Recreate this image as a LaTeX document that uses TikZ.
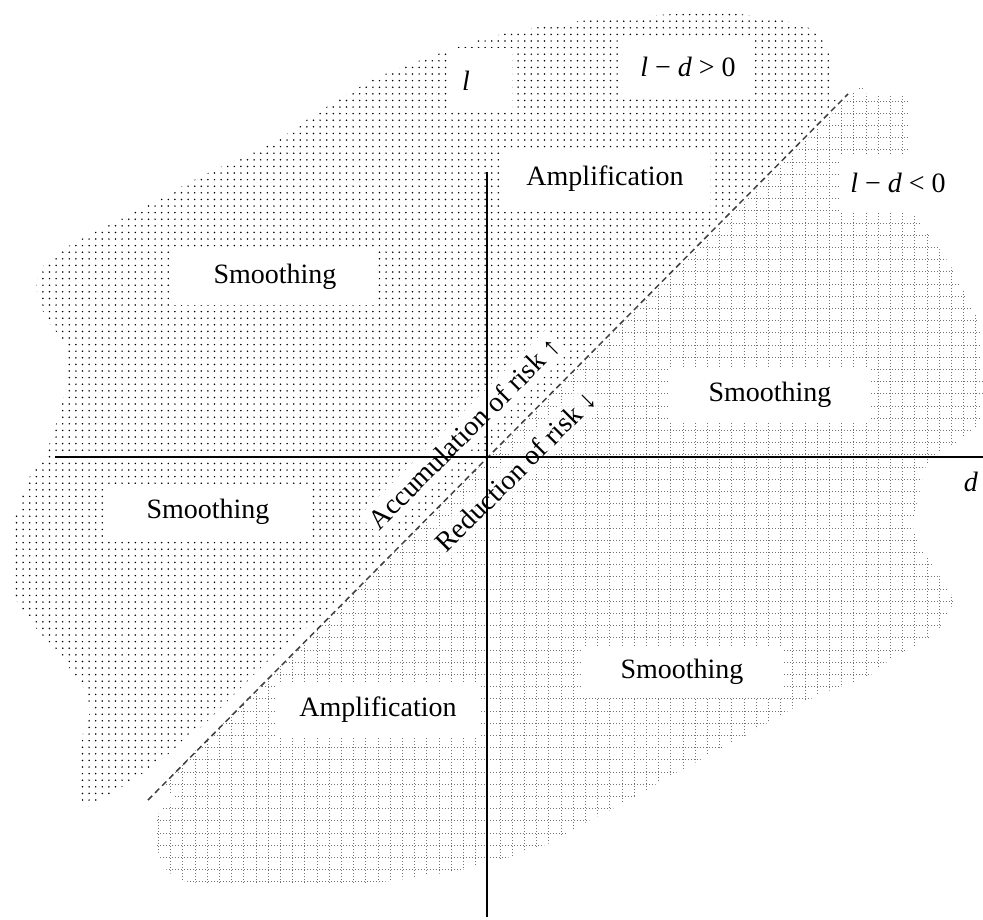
\documentclass[tikz,border=0pt]{standalone}
\usepackage{fontspec}
\setmainfont{Liberation Serif}
\begin{document}
\begin{tikzpicture}[x=1pt,y=-1pt,
  lab/.style={fill=white, inner sep=0pt, text=black, font=\fontsize{28}{32}\selectfont},
  plain/.style={inner sep=0pt, text=black, font=\fontsize{28}{32}\selectfont},
  dotrow/.style={black, line width=1.7pt, line cap=round, dash pattern=on 0pt off 6.6pt},
  gridline/.style={black!55, line width=1pt, dash pattern=on 1.2pt off 1.8pt},
  axis/.style={black, line width=1.2pt},
  divider/.style={black!75, line width=1.5pt, dash pattern=on 6pt off 4pt}
]
\useasboundingbox (0,0) rectangle (983,919);

% ---------- dotted region (l - d > 0) ----------
\begin{scope}
  \clip (-20,958) -- (958,-20) -- (-20,-20) -- cycle;
  \clip plot[smooth cycle, tension=0.45] coordinates {
      (40,270) (67,247) (133,213) (200,177) (277,140) (317,113) (383,75)
      (490,37) (590,20) (723,13) (807,27) (830,57) (834,100) (900,110)
      (600,420) (380,572) (280,650) (200,728) (143,773) (100,800) (84,806)
      (80,777) (83,733) (90,710) (83,687) (63,660) (43,637) (23,610)
      (13,593) (12,560) (15,520) (23,493) (33,470) (43,460) (53,433)
      (63,400) (67,353) (63,340) (47,320) (37,293)};
  \foreach \k in {0,...,125} {
    \draw[dotrow] (3.3,8+6.6*\k) -- (990,8+6.6*\k);
  }
\end{scope}

% ---------- grid region (l - d < 0) ----------
\begin{scope}
  \clip (-20,966) -- (966,-20) -- (1200,-20) -- (1200,1200) -- (-20,1200) -- cycle;
  \clip plot[smooth cycle, tension=0.45] coordinates {
      (867,94) (907,97) (910,155) (913,210) (940,250) (953,270) (973,310)
      (980,330) (980,420) (930,460) (920,490) (913,527) (923,550) (940,577)
      (953,600) (943,623) (930,637) (890,660) (867,677) (823,693) (790,710)
      (750,733) (700,760) (663,780) (630,800) (590,820) (550,843) (500,860)
      (460,870) (367,883) (200,883) (170,873) (160,857) (155,837) (160,810)
      (175,797) (120,740) (500,400) (830,70)};
  \foreach \k in {0,...,70} {
    \draw[gridline] (146.2+12.2*\k,60) -- (146.2+12.2*\k,910);
  }
  \foreach \k in {0,...,68} {
    \draw[gridline] (100,88.8+12.2*\k) -- (1000,88.8+12.2*\k);
  }
\end{scope}

% ---------- label boxes ----------
\node[lab, minimum width=65pt, minimum height=62pt] (lbox) at (479,79) {};
\node[plain] (lvar) at (466,81) {\textit{l}};
\node[lab, minimum width=130pt, minimum height=60pt] (pos) at (688,67) {\textit{l} − \textit{d} > 0};
\node[lab, minimum width=210pt, minimum height=58pt] (ampTop) at (605,179) {Amplification};
\node[lab, minimum width=118pt, minimum height=56pt] (neg) at (898,183) {\textit{l} − \textit{d} < 0};
\node[lab, minimum width=204pt, minimum height=55pt] (smUL) at (275,277) {Smoothing};
\node[lab, minimum width=200pt, minimum height=55pt] (smUR) at (770,395) {Smoothing};
\node[lab, minimum width=207pt, minimum height=57pt] (smL) at (208,512) {Smoothing};
\node[lab, minimum width=205pt, minimum height=55pt] (ampLow) at (378,710) {Amplification};
\node[lab, minimum width=203pt, minimum height=52pt] (smLR) at (682,672) {Smoothing};

\node[lab, rotate=45, inner xsep=3pt, inner ysep=5pt] (acc) at (464,433) {Accumulation of risk ↑};
\node[lab, rotate=45, inner xsep=3pt, inner ysep=5pt, fill opacity=0.75, text opacity=1] (red) at (516,471) {Reduction of risk ↓};

% ---------- divider and axes ----------
\coordinate (dlow) at (148,800);
\coordinate (dhigh) at (848,94);
\draw[divider] (dlow) -- (dhigh);

\coordinate (xl) at (55,457);
\coordinate (xr) at (983,457);
\coordinate (yb) at (487,917);
\coordinate (yt) at (487,172);
\draw[axis] (xl) -- (xr);
\draw[axis] (yb) -- (yt);

\node[plain] (dvar) at (971,482) {\textit{d}};
\end{tikzpicture}
\end{document}
